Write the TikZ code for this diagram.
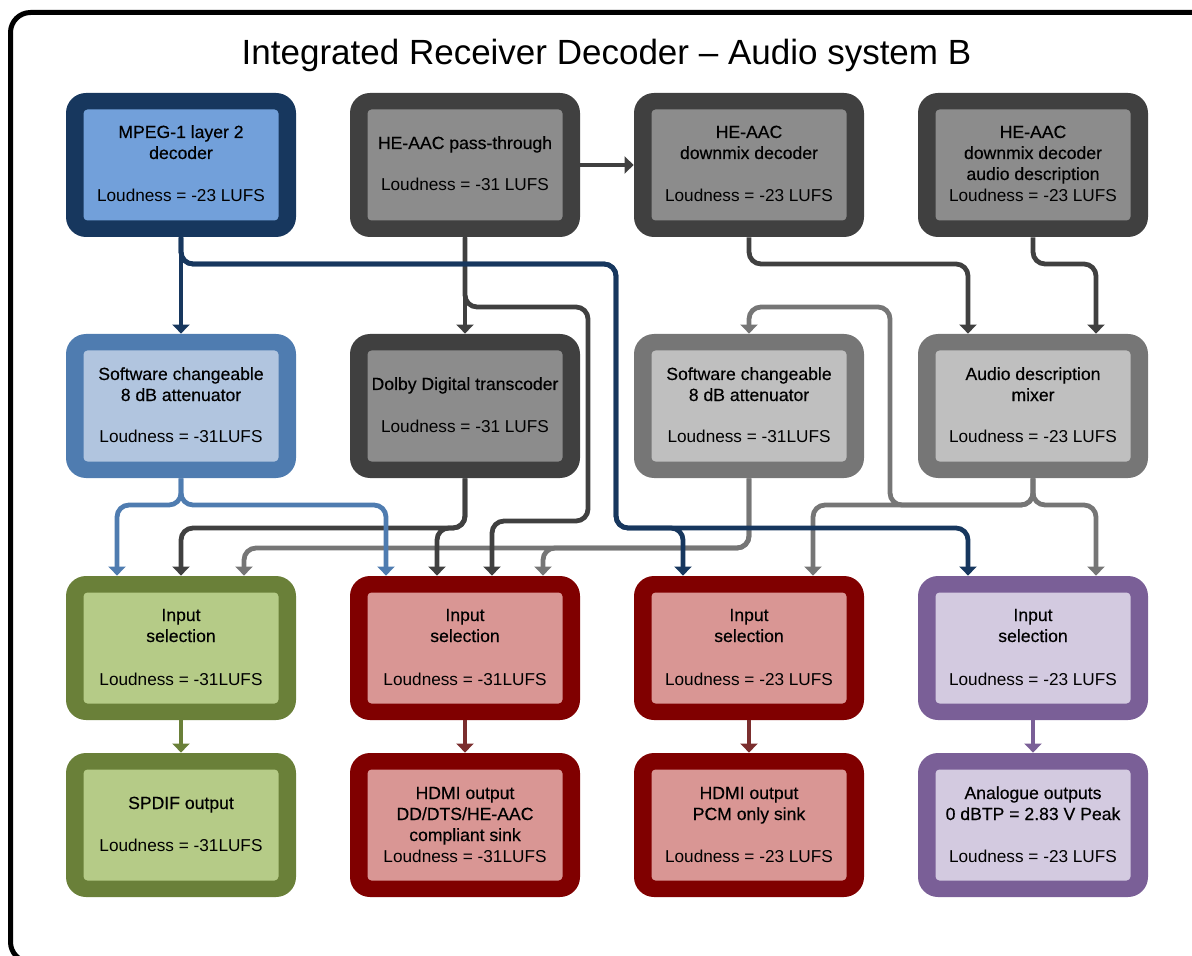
\documentclass[tikz,border=0pt]{standalone}
\usepackage{fontspec}
\setmainfont{Liberation Sans}
\newfontfamily\boxhd[FakeBold=0.35]{Liberation Sans}
\usetikzlibrary{arrows.meta}
\definecolor{navyc}{HTML}{17375E}
\definecolor{mpin}{HTML}{72A0DA}
\definecolor{dgray}{HTML}{404040}
\definecolor{dgin}{HTML}{8C8C8C}
\definecolor{lgray}{HTML}{767676}
\definecolor{lgin}{HTML}{BFBFBF}
\definecolor{sblue}{HTML}{4F7CB0}
\definecolor{sbin}{HTML}{B1C5DF}
\definecolor{grn}{HTML}{6A8039}
\definecolor{grnin}{HTML}{B5CB87}
\definecolor{redc}{HTML}{800000}
\definecolor{redin}{HTML}{D99694}
\definecolor{redar}{HTML}{7B2E2E}
\definecolor{purp}{HTML}{7A5F97}
\definecolor{purin}{HTML}{D3CAE0}
\tikzset{
  outerbox/.style={minimum width=115pt, minimum height=72pt, rounded corners=10pt, inner sep=0pt, draw=none},
  innerbox/.style={minimum width=97.5pt, minimum height=55.5pt, rounded corners=2pt, inner sep=0pt, draw=none},
  ttl/.style={anchor=base, inner sep=0pt, font=\boxhd\fontsize{8.8}{10.5}\selectfont},
  loud/.style={anchor=base, inner sep=0pt, font=\fontsize{8.6}{10}\selectfont},
  conn/.style={line width=2.4pt, rounded corners=6pt, -{Triangle[width=8.5pt,length=4.5pt]}},
}
\newcommand\mkbox[5]{%
  \node[outerbox, fill=#4] (#1) at (#2,#3) {};
  \node[innerbox, fill=#5] (#1i) at (#1.center) {};
}
\begin{document}
\begin{tikzpicture}[x=0.5pt, y=-0.5pt]
\useasboundingbox (0,0) rectangle (1192,956);
\draw[line width=2.5pt, rounded corners=10pt] (10.5,12.5) rectangle (1215,962);
\node[font=\fontsize{17.5}{20}\selectfont, anchor=base, inner sep=0pt] (title) at (606.5,65) {Integrated Receiver Decoder – Audio system B};

% row 1
\mkbox{mp}{181}{165}{navyc}{mpin}
\mkbox{pt}{465}{165}{dgray}{dgin}
\mkbox{dd}{749}{165}{dgray}{dgin}
\mkbox{ad}{1033}{165}{dgray}{dgin}
% row 2
\mkbox{at1}{181}{406}{sblue}{sbin}
\mkbox{dt}{465}{406}{dgray}{dgin}
\mkbox{at3}{749}{406}{lgray}{lgin}
\mkbox{mx}{1033}{406}{lgray}{lgin}
% row 3
\mkbox{is1}{181}{648}{grn}{grnin}
\mkbox{is2}{465}{648}{redc}{redin}
\mkbox{is3}{749}{648}{redc}{redin}
\mkbox{is4}{1033}{648}{purp}{purin}
% row 4
\mkbox{sp}{181}{825}{grn}{grnin}
\mkbox{h1}{465}{825}{redc}{redin}
\mkbox{h2}{749}{825}{redc}{redin}
\mkbox{an}{1033}{825}{purp}{purin}

% texts row 1
\node[ttl] (mpa) at (181,138) {MPEG-1 layer 2};
\node[ttl] (mpb) at (181,159) {decoder};
\node[loud] (mpl) at (181,202) {Loudness = -23 LUFS};
\node[ttl] (pta) at (465,149) {HE-AAC pass-through};
\node[loud] (ptl) at (465,191) {Loudness = -31 LUFS};
\node[ttl] (dda) at (749,138) {HE-AAC};
\node[ttl] (ddb) at (749,159) {downmix decoder};
\node[loud] (ddl) at (749,202) {Loudness = -23 LUFS};
\node[ttl] (ada) at (1033,138) {HE-AAC};
\node[ttl] (adb) at (1033,159) {downmix decoder};
\node[ttl] (adc) at (1033,180) {audio description};
\node[loud] (adl) at (1033,202) {Loudness = -23 LUFS};
% texts row 2
\node[ttl] (at1a) at (181,380) {Software changeable};
\node[ttl] (at1b) at (181,401) {8 dB attenuator};
\node[loud] (at1l) at (181,443) {Loudness = -31LUFS};
\node[ttl] (dta) at (465,390) {Dolby Digital transcoder};
\node[loud] (dtl) at (465,432) {Loudness = -31 LUFS};
\node[ttl] (at3a) at (749,380) {Software changeable};
\node[ttl] (at3b) at (749,401) {8 dB attenuator};
\node[loud] (at3l) at (749,443) {Loudness = -31LUFS};
\node[ttl] (mxa) at (1033,380) {Audio description};
\node[ttl] (mxb) at (1033,401) {mixer};
\node[loud] (mxl) at (1033,443) {Loudness = -23 LUFS};
% texts row 3
\node[ttl] (is1a) at (181,621) {Input};
\node[ttl] (is1b) at (181,642) {selection};
\node[loud] (is1l) at (181,685) {Loudness = -31LUFS};
\node[ttl] (is2a) at (465,621) {Input};
\node[ttl] (is2b) at (465,642) {selection};
\node[loud] (is2l) at (465,685) {Loudness = -31LUFS};
\node[ttl] (is3a) at (749,621) {Input};
\node[ttl] (is3b) at (749,642) {selection};
\node[loud] (is3l) at (749,685) {Loudness = -23 LUFS};
\node[ttl] (is4a) at (1033,621) {Input};
\node[ttl] (is4b) at (1033,642) {selection};
\node[loud] (is4l) at (1033,685) {Loudness = -23 LUFS};
% texts row 4
\node[ttl] (spa) at (181,809) {SPDIF output};
\node[loud] (spl) at (181,851) {Loudness = -31LUFS};
\node[ttl] (h1a) at (465,799) {HDMI output};
\node[ttl] (h1b) at (465,820) {DD/DTS/HE-AAC};
\node[ttl] (h1c) at (465,841) {compliant sink};
\node[loud] (h1l) at (465,862) {Loudness = -31LUFS};
\node[ttl] (h2a) at (749,799) {HDMI output};
\node[ttl] (h2b) at (749,820) {PCM only sink};
\node[loud] (h2l) at (749,862) {Loudness = -23 LUFS};
\node[ttl] (ana) at (1033,799) {Analogue outputs};
\node[ttl] (anb) at (1033,820) {0 dBTP = 2.83 V Peak};
\node[loud] (anl) at (1033,862) {Loudness = -23 LUFS};

% light gray connectors
\draw[conn, lgray] (mx.south) -- (1033,505) -- (890,505) -- (890,307) -- (749,307) -- (at3.north);
\draw[conn, lgray] (mx.south) -- (1033,505) -- (813,505) -- ([xshift=32pt]is3.north);
\draw[conn, lgray] (mx.south) -- (1033,505) -- (1096,505) -- ([xshift=31.5pt]is4.north);
\draw[conn, lgray] (at3.south) -- (749,548) -- (244,548) -- ([xshift=31.5pt]is1.north);
\draw[conn, lgray] (at3.south) -- (749,548) -- (543,548) -- ([xshift=39pt]is2.north);
% dark gray connectors
\draw[conn, dgray] (pt.east) -- (dd.west);
\draw[conn, dgray] (pt.south) -- (dt.north);
\draw[conn, dgray] (pt.south) -- (465,307) -- (588,307) -- (588,521) -- (492,521) -- ([xshift=13.5pt]is2.north);
\draw[conn, dgray] (dd.south) -- (749,264) -- (968,264) -- ([xshift=-32.5pt]mx.north);
\draw[conn, dgray] (ad.south) -- (1033,264) -- (1096,264) -- ([xshift=31.5pt]mx.north);
\draw[conn, dgray] (dt.south) -- (465,528) -- (181,528) -- (is1.north);
\draw[conn, dgray] (dt.south) -- (465,528) -- (437,528) -- ([xshift=-14pt]is2.north);
% steel blue connectors
\draw[conn, sblue] (at1.south) -- (181,505) -- (117,505) -- ([xshift=-32pt]is1.north);
\draw[conn, sblue] (at1.south) -- (181,505) -- (386,505) -- ([xshift=-39.5pt]is2.north);
% navy connectors
\draw[conn, navyc] (mp.south) -- (at1.north);
\draw[conn, navyc] (mp.south) -- (181,264) -- (616,264) -- (616,528) -- (968,528) -- ([xshift=-32.5pt]is4.north);
\draw[conn, navyc] (mp.south) -- (181,264) -- (616,264) -- (616,528) -- (683,528) -- ([xshift=-33pt]is3.north);
% row 3 to row 4
\draw[conn, grn] (is1.south) -- (sp.north);
\draw[conn, redar] (is2.south) -- (h1.north);
\draw[conn, redar] (is3.south) -- (h2.north);
\draw[conn, purp] (is4.south) -- (an.north);
\end{tikzpicture}
\end{document}
